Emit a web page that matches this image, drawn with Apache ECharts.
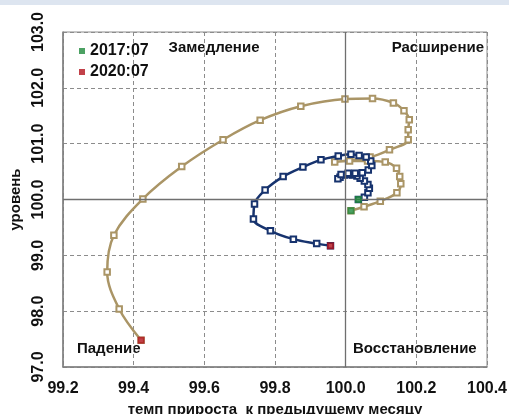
<!DOCTYPE html>
<html>
<head>
<meta charset="utf-8">
<script src="https://cdn.jsdelivr.net/npm/echarts@6/dist/echarts.min.js"></script>
<style>
html,body{margin:0;padding:0;background:#fff;}
#chart{width:509px;height:414px;}
</style>
</head>
<body>
<div id="chart"></div>
<script>
// Tan series (growth rate vs level)
var tanX = [100.015,100.052,100.098,100.145,100.156,100.153,100.144,100.112,100.062,100.011,99.969,100.069,100.124,100.177,100.177,100.180,100.165,100.135,100.076,99.998,99.873,99.758,99.653,99.536,99.426,99.344,99.325,99.359,99.421];
var tanY = [99.80,99.87,99.97,100.12,100.28,100.41,100.56,100.67,100.69,100.69,100.67,100.76,100.89,101.07,101.25,101.43,101.59,101.73,101.81,101.80,101.67,101.42,101.07,100.59,100.01,99.36,98.70,98.04,97.48];
// Navy series
var navyX = [100.036,100.053,100.063,100.067,100.063,100.053,100.041,100.032,100.019,100.008,99.996,99.984,99.978,99.987,100.007,100.027,100.047,100.064,100.074,100.071,100.058,100.038,100.015,99.979,99.930,99.879,99.823,99.772,99.742,99.739,99.787,99.852,99.918,99.957];
var navyY = [100.00,100.04,100.12,100.20,100.27,100.33,100.38,100.42,100.44,100.45,100.44,100.40,100.37,100.45,100.47,100.47,100.48,100.53,100.61,100.69,100.76,100.79,100.81,100.78,100.71,100.58,100.41,100.17,99.92,99.65,99.44,99.29,99.21,99.17];
var startLabel = '2017:07';
var endLabel = '2020:07';
var quadrantLabels = ['Замедление','Расширение','Падение','Восстановление'];
var xName = 'темп прироста  к предыдущему месяцу';
var yName = 'уровень';

function pairs(xs, ys){ return xs.map(function(v,i){ return [v, ys[i]]; }); }
var tanData = pairs(tanX, tanY);
var navyData = pairs(navyX, navyY);

var FONT = 'Liberation Sans';
var chart = echarts.init(document.getElementById('chart'), null, {renderer:'canvas'});
var option = {
  animation:false,
  backgroundColor:'#fff',
  grid:{left:63, right:22, top:32, bottom:47, show:true, borderColor:'#8c8c8c', borderWidth:1, containLabel:false, outerBoundsMode:'none'},
  legend:{
    data:[startLabel, endLabel], orient:'vertical', left:74, top:38,
    icon:'rect', itemWidth:6, itemHeight:6, itemGap:5,
    textStyle:{fontFamily:FONT, fontWeight:'bold', fontSize:16, color:'#111'}
  },
  xAxis:{
    type:'value', min:99.2, max:100.4, interval:0.2,
    name:xName, nameLocation:'middle', nameGap:33,
    nameTextStyle:{fontFamily:FONT, fontWeight:'bold', fontSize:15, color:'#111'},
    axisLine:{show:true, lineStyle:{color:'#7f7f7f', width:1.5}},
    axisTick:{show:false},
    axisLabel:{margin:14, fontFamily:FONT, fontWeight:'bold', fontSize:16, color:'#111', formatter:function(v){return v.toFixed(1);}},
    splitLine:{show:true, lineStyle:{color:'#8c8c8c', type:[4,3], width:1}}
  },
  yAxis:{
    type:'value', min:97, max:103, interval:1,
    name:yName, nameLocation:'middle', nameGap:35, nameRotate:90,
    nameTextStyle:{fontFamily:FONT, fontWeight:'bold', fontSize:15, color:'#111'},
    axisLine:{show:true, lineStyle:{color:'#7f7f7f', width:1.5}},
    axisTick:{show:false},
    axisLabel:{rotate:90, margin:16, fontFamily:FONT, fontWeight:'bold', fontSize:16, color:'#111', formatter:function(v){return v.toFixed(1);}},
    splitLine:{show:true, lineStyle:{color:'#8c8c8c', type:[4,3], width:1}}
  },
  graphic:[
    {type:'rect', shape:{x:0,y:0,width:509,height:5}, style:{fill:'#dde5f0'}, silent:true},
    {type:'text', x:214, y:48, style:{text:quadrantLabels[0], font:'bold 15px "Liberation Sans"', fill:'#111', textAlign:'center', textVerticalAlign:'middle'}},
    {type:'text', x:484, y:48, style:{text:quadrantLabels[1], font:'bold 15px "Liberation Sans"', fill:'#111', textAlign:'right', textVerticalAlign:'middle'}},
    {type:'text', x:77, y:349, style:{text:quadrantLabels[2], font:'bold 15px "Liberation Sans"', fill:'#111', textAlign:'left', textVerticalAlign:'middle'}},
    {type:'text', x:353, y:349, style:{text:quadrantLabels[3], font:'bold 15px "Liberation Sans"', fill:'#111', textAlign:'left', textVerticalAlign:'middle'}}
  ],
  series:[
    {
      type:'line', name:'tan', data:tanData, smooth:0.35, z:3,
      symbol:'emptyRect', symbolSize:5.5, showSymbol:true,
      lineStyle:{color:'#aa9566', width:2.5},
      itemStyle:{color:'#aa9566', borderWidth:1.3},
      markLine:{
        silent:true, symbol:'none', label:{show:false},
        lineStyle:{color:'#6f6f6f', type:'solid', width:1.3},
        data:[{xAxis:100},{yAxis:100}]
      }
    },
    {
      type:'line', name:'navy', data:navyData, smooth:0.35, z:4,
      symbol:'emptyRect', symbolSize:5.5, showSymbol:true,
      lineStyle:{color:'#17336e', width:2.5},
      itemStyle:{color:'#17336e', borderWidth:1.3}
    },
    {
      type:'scatter', name:startLabel, z:5, symbol:'rect', symbolSize:7,
      itemStyle:{color:'#1f8a3c'},
      data:[tanData[0], navyData[0]]
    },
    {
      type:'scatter', name:endLabel, z:5, symbol:'rect', symbolSize:7,
      itemStyle:{color:'#b3121c'},
      data:[tanData[tanData.length-1], navyData[navyData.length-1]]
    }
  ]
};
chart.setOption(option);
</script>
</body>
</html>
